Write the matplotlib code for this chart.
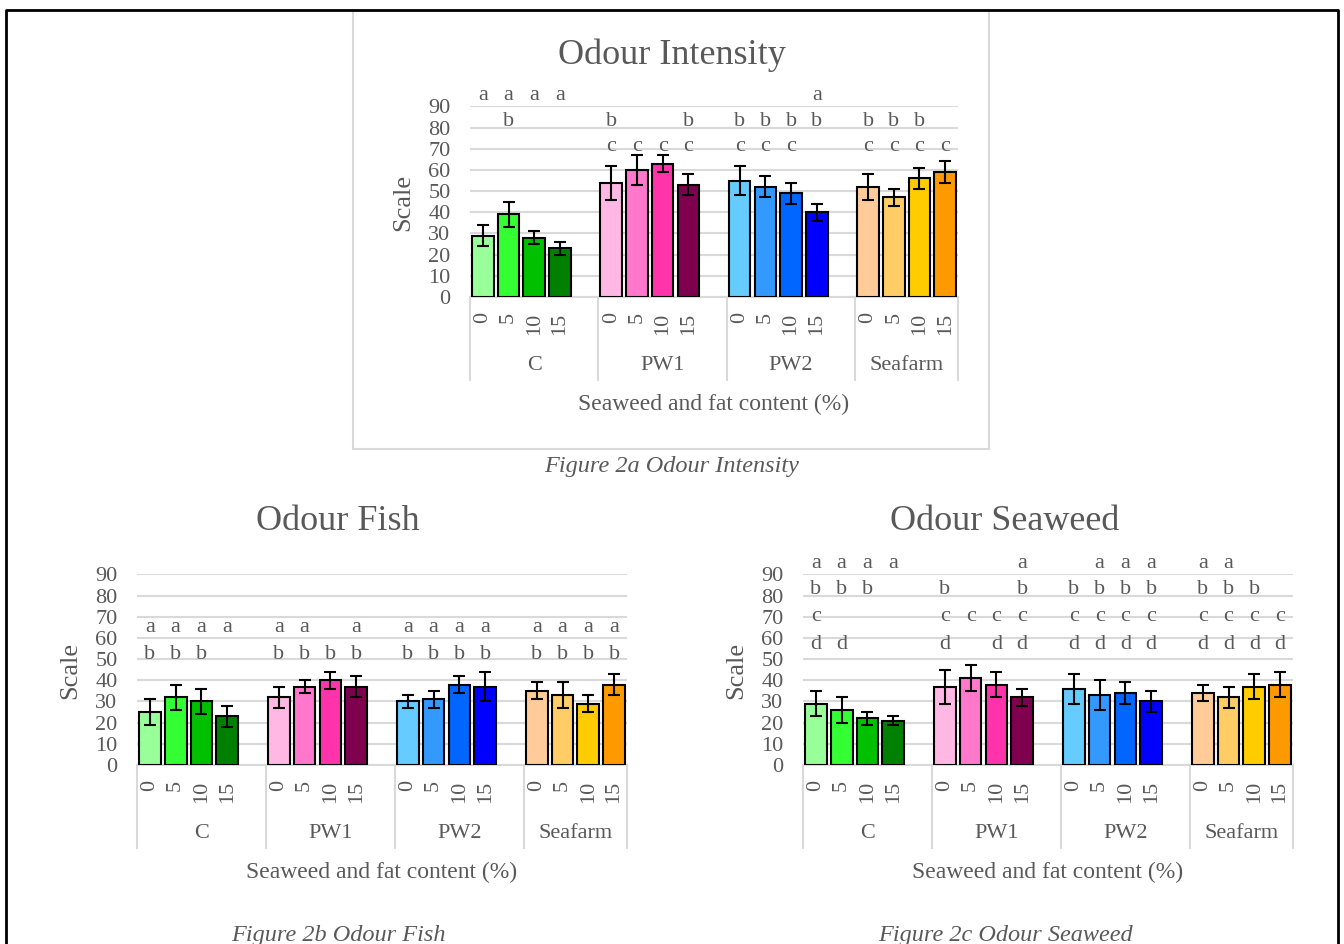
import matplotlib.pyplot as plt
from matplotlib.patches import Rectangle
from matplotlib.lines import Line2D

plt.rcParams['font.family'] = ['Liberation Serif', 'DejaVu Serif']

TEXT = "#595959"
GRID = "#D9D9D9"

groups = ["C", "PW1", "PW2", "Seafarm"]
levels = ["0", "5", "10", "15"]
colors = ["#99FF99", "#33FF33", "#00C000", "#008000",
          "#FFB8E4", "#FF78CC", "#FF33AA", "#800050",
          "#66CCFF", "#3399FF", "#0066FF", "#0000FF",
          "#FFCC99", "#FFCC66", "#FFCC00", "#FF9900"]

intensity_mean = [29, 39, 28, 23, 54, 60, 63, 53, 55, 52, 49, 40, 52, 47, 56, 59]
intensity_err = [5, 6, 3, 3, 8, 7, 4, 5, 7, 5, 5, 4, 6, 4, 5, 5]
intensity_letters = ["a", "ab", "a", "a", "bc", "c", "c", "bc",
                     "bc", "bc", "bc", "ab", "bc", "bc", "bc", "c"]

fish_mean = [25, 32, 30, 23, 32, 37, 40, 37, 30, 31, 38, 37, 35, 33, 29, 38]
fish_err = [6, 6, 6, 5, 5, 3, 4, 5, 3, 4, 4, 7, 4, 6, 4, 5]
fish_letters = ["ab", "ab", "ab", "a", "ab", "ab", "b", "ab",
                "ab", "ab", "ab", "ab", "ab", "ab", "ab", "ab"]

seaweed_mean = [29, 26, 22, 21, 37, 41, 38, 32, 36, 33, 34, 30, 34, 32, 37, 38]
seaweed_err = [6, 6, 3, 2, 8, 6, 6, 4, 7, 7, 5, 5, 4, 5, 6, 6]
seaweed_letters = ["abcd", "abd", "ab", "a", "bcd", "c", "cd", "abcd",
                   "bcd", "abcd", "abcd", "abcd", "abcd", "abcd", "bcd", "cd"]

fig = plt.figure(figsize=(13.44, 9.44), dpi=100)
fig.patch.set_facecolor("white")


def draw_chart(rect, means, errs, letters, rows):
    ax = fig.add_axes(rect)
    x = [g * 5 + i for g in range(len(groups)) for i in range(len(levels))]
    ax.bar(x, means, width=0.84, color=colors, edgecolor="black", linewidth=1.5, zorder=3)
    ax.errorbar(x, means, yerr=errs, fmt="none", ecolor="black", elinewidth=1.5,
                capsize=4.5, capthick=1.5, zorder=4)
    ax.set_xlim(-0.5, 18.5)
    ax.set_ylim(0, 90)
    ax.set_yticks(range(0, 91, 10))
    ax.tick_params(axis="y", length=0, pad=14, labelsize=16, labelcolor=TEXT)
    ax.set_xticks(x, levels * len(groups), rotation=90)
    ax.tick_params(axis="x", length=0, pad=11, labelsize=16, labelcolor=TEXT)
    ax.grid(axis="y", color=GRID, lw=1.5)
    ax.set_axisbelow(True)
    for s in ["top", "right", "left"]:
        ax.spines[s].set_visible(False)
    ax.spines["bottom"].set_color(GRID)
    ax.spines["bottom"].set_linewidth(1.5)
    trans = ax.get_xaxis_transform()
    bounds = [-0.5, 4.5, 9.5, 14.5, 18.5]
    for b in bounds:
        ax.plot([b, b], [0, -0.435], transform=trans, color=GRID, lw=1.5, clip_on=False)
    for g, name in enumerate(groups):
        ax.text((bounds[g] + bounds[g + 1]) / 2, -0.362, name, transform=trans,
                ha="center", va="center", fontsize=16, color=TEXT)
    ax.text(0.5, -0.562, "Seaweed and fat content (%)", transform=ax.transAxes,
            ha="center", va="center", fontsize=17, color=TEXT)
    for xi, lab in zip(x, letters):
        for ch in lab:
            ax.text(xi, rows[ch], ch, ha="center", va="center", fontsize=16,
                    color=TEXT, clip_on=False)
    return ax


draw_chart([470 / 1344, 1 - 297 / 944, 488 / 1344, 190.6 / 944],
           intensity_mean, intensity_err, intensity_letters,
           {"a": 95, "b": 83, "c": 71})
draw_chart([137 / 1344, 1 - 765 / 944, 490 / 1344, 190.6 / 944],
           fish_mean, fish_err, fish_letters,
           {"a": 65, "b": 52})
draw_chart([803 / 1344, 1 - 765 / 944, 490 / 1344, 190.6 / 944],
           seaweed_mean, seaweed_err, seaweed_letters,
           {"a": 95, "b": 83, "c": 70, "d": 57})

# titles, y labels, captions
fig.text(672 / 1344, 1 - 55 / 944, "Odour Intensity", ha="center", va="center", fontsize=26, color=TEXT)
fig.text(338 / 1344, 1 - 521 / 944, "Odour Fish", ha="center", va="center", fontsize=26, color=TEXT)
fig.text(1005 / 1344, 1 - 521 / 944, "Odour Seaweed", ha="center", va="center", fontsize=26, color=TEXT)

fig.text(403 / 1344, 1 - 202 / 944, "Scale", rotation=90, ha="center", va="center", fontsize=19, color=TEXT)
fig.text(70 / 1344, 1 - 670 / 944, "Scale", rotation=90, ha="center", va="center", fontsize=19, color=TEXT)
fig.text(736 / 1344, 1 - 670 / 944, "Scale", rotation=90, ha="center", va="center", fontsize=19, color=TEXT)

fig.text(672 / 1344, 1 - 467 / 944, "Figure 2a Odour Intensity", style="italic",
         ha="center", va="center", fontsize=17.5, color=TEXT)
fig.text(338 / 1344, 1 - 935 / 944, "Figure 2b Odour Fish", style="italic",
         ha="center", va="center", fontsize=17.5, color=TEXT)
fig.text(1005 / 1344, 1 - 935 / 944, "Figure 2c Odour Seaweed", style="italic",
         ha="center", va="center", fontsize=17.5, color=TEXT)

# chart border of the top chart
fig.add_artist(Rectangle((353 / 1344, 1 - 449 / 944), 636 / 1344, 438 / 944, fill=False,
                         edgecolor=GRID, lw=1.5, transform=fig.transFigure))

# page frame (open at the bottom)
fx = [6 / 1344, 6 / 1344, 1338 / 1344, 1338 / 1344]
fy = [-0.05, 1 - 10 / 944, 1 - 10 / 944, -0.05]
fig.add_artist(Line2D(fx, fy, color="black", lw=2, transform=fig.transFigure))

fig.savefig("out.png", dpi=100, facecolor="white")
print("saved")
